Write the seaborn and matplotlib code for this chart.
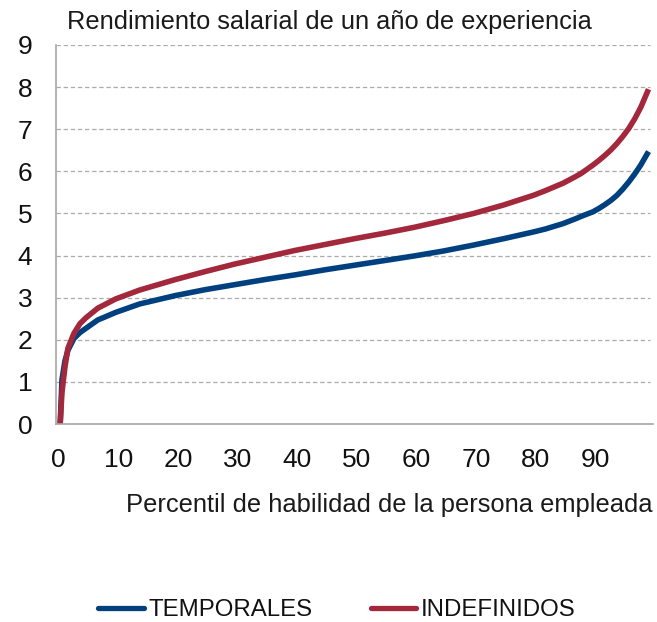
import matplotlib
matplotlib.use("Agg")
import matplotlib.pyplot as plt
import matplotlib.transforms as mtransforms
import seaborn as sns
import pandas as pd
from matplotlib.lines import Line2D

# Data
percentil = [0.7, 1, 1.5, 2, 3, 4, 5, 7, 10, 14, 20, 25, 30, 35, 40, 45, 50,
             55, 60, 65, 70, 75, 80, 82, 85, 87, 88, 90, 91, 92, 93, 94, 95,
             96, 97, 98, 99.3]
temporales = [0.0, 1.05, 1.5, 1.75, 2.03, 2.17, 2.27, 2.47, 2.65, 2.85, 3.05,
              3.19, 3.31, 3.43, 3.54, 3.66, 3.77, 3.88, 3.99, 4.11, 4.25,
              4.4, 4.56, 4.63, 4.76, 4.87, 4.93, 5.04, 5.12, 5.21, 5.31,
              5.43, 5.58, 5.75, 5.94, 6.15, 6.47]
indefinidos = [0.0, 0.75, 1.35, 1.8, 2.15, 2.38, 2.52, 2.75, 2.97, 3.18, 3.43,
               3.62, 3.8, 3.96, 4.12, 4.26, 4.4, 4.53, 4.67, 4.83, 5.0,
               5.2, 5.43, 5.54, 5.72, 5.87, 5.95, 6.15, 6.26, 6.38, 6.51,
               6.66, 6.83, 7.02, 7.25, 7.52, 7.95]
series_names = ["TEMPORALES", "INDEFINIDOS"]
colors = ["#00407F", "#A3283B"]
xtick_vals = list(range(0, 101, 5))
xtick_labels = [str(v) if (v % 10 == 0 and v < 100) else "" for v in xtick_vals]
yticks = list(range(0, 10))
title = "Rendimiento salarial de un año de experiencia"
xlabel = "Percentil de habilidad de la persona empleada"

df = pd.DataFrame({
    "x": percentil * 2,
    "y": temporales + indefinidos,
    "serie": [series_names[0]] * len(percentil) + [series_names[1]] * len(percentil),
})

sns.set_theme(style="white")
plt.rcParams["font.family"] = ["Liberation Sans", "DejaVu Sans"]

fig = plt.figure(figsize=(6.57, 6.22), dpi=100)
ax = fig.add_axes([56 / 657, 1 - 424 / 622, (652.7 - 56) / 657, (424 - 45) / 622])

sns.lineplot(data=df, x="x", y="y", hue="serie", palette=colors,
             hue_order=series_names, linewidth=4.0, ax=ax, legend=False,
             solid_capstyle="butt", solid_joinstyle="round")

ax.set_xlim(0, 100)
ax.set_ylim(0, 9)
ax.set_yticks(yticks)
ax.set_yticklabels([str(v) for v in yticks])
ax.set_xticks(xtick_vals)
ax.set_xticklabels(xtick_labels)
ax.set_xlabel("")
ax.set_ylabel("")

for v in yticks[1:]:
    ax.axhline(v, color="#ABABAB", linewidth=0.9, linestyle=(0, (3.5, 2.2)),
               zorder=0, xmax=0.995)

for s in ["top", "right"]:
    ax.spines[s].set_visible(False)
for s in ["left", "bottom"]:
    ax.spines[s].set_color("#A6A6A6")
    ax.spines[s].set_linewidth(1.2)

ax.tick_params(axis="y", length=0, pad=17, labelsize=19, labelcolor="#111111")
ax.tick_params(axis="x", direction="in", length=5, width=1, color="#A6A6A6",
               pad=17, labelsize=19, labelcolor="#111111")

offset = mtransforms.ScaledTranslation(0.025, 0, fig.dpi_scale_trans)
for lab in ax.get_xticklabels():
    lab.set_transform(lab.get_transform() + offset)

fig.text(67 / 657, 1 - 22 / 622, title, ha="left", va="center",
         fontsize=18.3, color="#1a1a1a")
fig.text(653 / 657, 1 - 505 / 622, xlabel, ha="right", va="center",
         fontsize=18.4, color="#1a1a1a")

handles = [Line2D([0], [0], color=c, linewidth=3.8) for c in colors]
fig.legend(handles, series_names, loc="center", ncol=2, frameon=False,
           bbox_to_anchor=(337 / 657, 1 - 610 / 622), fontsize=17.3,
           handlelength=1.9, handletextpad=0.2, columnspacing=2.4,
           labelcolor="#111111")

fig.savefig("out.png", dpi=100)
